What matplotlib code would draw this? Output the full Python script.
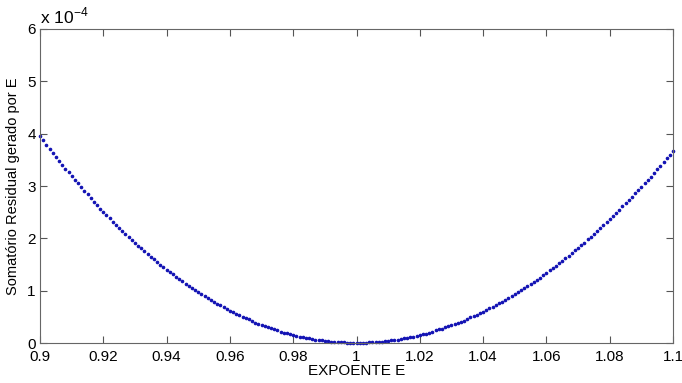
import numpy as np
import matplotlib
matplotlib.use("Agg")
import matplotlib.pyplot as plt

plt.rcParams['font.family'] = ['Liberation Sans', 'DejaVu Sans']
plt.rcParams['mathtext.fontset'] = 'custom'
plt.rcParams['mathtext.rm'] = 'Liberation Sans'

# expoente E, passo 0.001
E = np.round(np.arange(0.9, 1.1005, 0.001), 3)

# somatorio residual (x 1e-4)
residual = [
    3.95, 3.87, 3.79, 3.71, 3.64, 3.56, 3.48, 3.41, 3.33, 3.26,
    3.19, 3.12, 3.05, 2.98, 2.91, 2.84, 2.77, 2.70, 2.64, 2.57,
    2.51, 2.45, 2.38, 2.32, 2.26, 2.20, 2.14, 2.08, 2.03, 1.97,
    1.91, 1.86, 1.81, 1.75, 1.70, 1.65, 1.60, 1.55, 1.50, 1.45,
    1.40, 1.36, 1.31, 1.26, 1.22, 1.18, 1.13, 1.09, 1.05, 1.01,
    0.97, 0.93, 0.89, 0.86, 0.82, 0.78, 0.75, 0.72, 0.68, 0.65,
    0.62, 0.59, 0.56, 0.53, 0.50, 0.47, 0.45, 0.42, 0.39, 0.37,
    0.35, 0.32, 0.30, 0.28, 0.26, 0.24, 0.22, 0.20, 0.19, 0.17,
    0.15, 0.14, 0.12, 0.11, 0.10, 0.09, 0.08, 0.06, 0.06, 0.05,
    0.04, 0.03, 0.02, 0.02, 0.01, 0.01, 0.01, 0.00, 0.00, 0.00,
    0.00,
    0.00, 0.00, 0.00, 0.01, 0.01, 0.01, 0.02, 0.02, 0.03, 0.04,
    0.05, 0.05, 0.06, 0.07, 0.09, 0.10, 0.11, 0.12, 0.14, 0.15,
    0.17, 0.18, 0.20, 0.22, 0.24, 0.26, 0.27, 0.30, 0.32, 0.34,
    0.36, 0.39, 0.41, 0.43, 0.46, 0.49, 0.51, 0.54, 0.57, 0.60,
    0.63, 0.66, 0.69, 0.73, 0.76, 0.79, 0.83, 0.86, 0.90, 0.93,
    0.97, 1.01, 1.05, 1.09, 1.13, 1.17, 1.21, 1.25, 1.30, 1.34,
    1.39, 1.43, 1.48, 1.52, 1.57, 1.62, 1.67, 1.72, 1.77, 1.82,
    1.87, 1.92, 1.98, 2.03, 2.08, 2.14, 2.20, 2.25, 2.31, 2.37,
    2.43, 2.48, 2.54, 2.61, 2.67, 2.73, 2.79, 2.86, 2.92, 2.98,
    3.05, 3.12, 3.18, 3.25, 3.32, 3.39, 3.46, 3.53, 3.60, 3.67,
]

xticks = [0.9, 0.92, 0.94, 0.96, 0.98, 1.0, 1.02, 1.04, 1.06, 1.08, 1.1]
xticklabels = ["0.9", "0.92", "0.94", "0.96", "0.98", "1", "1.02", "1.04", "1.06", "1.08", "1.1"]
yticks = [0, 1, 2, 3, 4, 5, 6]

fig = plt.figure(figsize=(6.82, 3.83), dpi=100)
ax = fig.add_axes([0.0587, 0.1044, 0.9281, 0.8199])

ax.plot(E, residual, '.', color='#1414b4', markersize=3.2, clip_on=False)

ax.set_xlim(0.9, 1.1)
ax.set_ylim(0, 6)
ax.set_xticks(xticks)
ax.set_xticklabels(xticklabels)
ax.set_yticks(yticks)
ax.tick_params(direction='in', length=5, top=True, right=True,
               labelsize=11, colors='#555555', labelcolor='black')
ax.tick_params(axis='x', pad=5)
ax.tick_params(axis='y', pad=3)
for s in ax.spines.values():
    s.set_color('#666666')
    s.set_linewidth(0.8)

ax.set_xlabel("EXPOENTE E", fontsize=11, labelpad=0)
ax.set_ylabel("Somatório Residual gerado por E", fontsize=10.5, labelpad=5)
ax.text(0.0, 1.008, r"x 10$^{-4}$", transform=ax.transAxes, fontsize=12.5,
        ha='left', va='bottom')

fig.savefig("out.png", dpi=100)
